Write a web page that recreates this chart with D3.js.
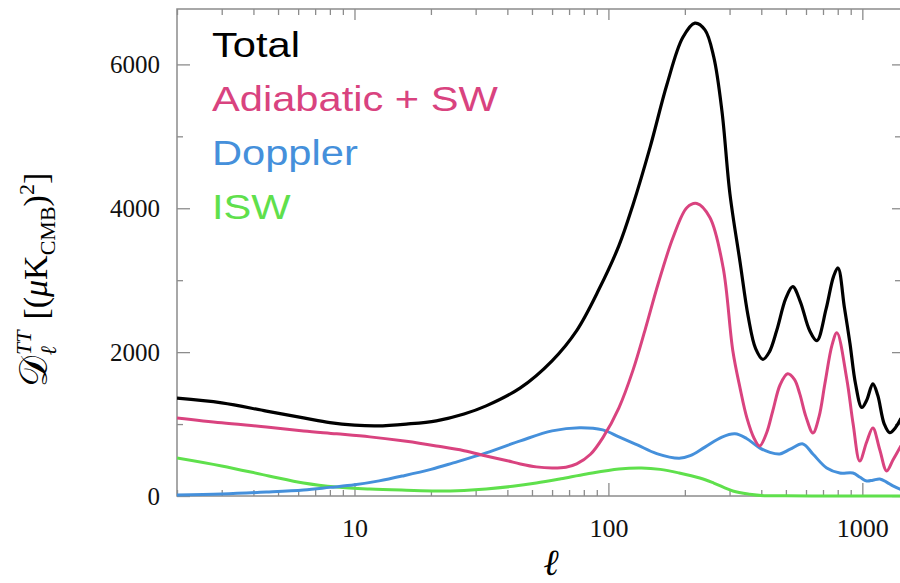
<!DOCTYPE html>
<html>
<head>
<meta charset="utf-8">
<script src="https://d3js.org/d3.v7.min.js"></script>
<style>
  body { margin: 0; background: #fff; }
  .frame { fill: none; stroke: #8c8c8c; stroke-width: 1.5; }
  .tick line { stroke: #8c8c8c; stroke-width: 1.3; }
  .axis path.domain { display: none; }
  .axis text { font-family: "Liberation Serif", "DejaVu Serif", serif; fill: #111; }
  .legend text { font-family: "Liberation Sans", Arial, sans-serif; }
</style>
</head>
<body>
<div id="chart"></div>
<script>

// multipole values (l) and power D_l for each component
var totalL   = [2, 3, 4.5, 6.3, 8, 10, 12.3, 16, 21, 27, 33, 45, 60, 75, 92, 110, 125, 146, 170, 196, 219, 240, 260, 280, 301, 330, 355, 380, 406, 430, 460, 500, 532, 570, 620, 662, 720, 770, 802, 850, 894, 940, 995, 1040, 1100, 1150, 1220, 1282, 1350, 1420];
var totalD   = [1360, 1295, 1180, 1086, 1020, 985, 975, 1000, 1045, 1140, 1253, 1504, 1880, 2300, 2880, 3480, 4050, 4850, 5720, 6370, 6574, 6480, 6100, 5350, 4200, 3250, 2500, 2050, 1900, 2000, 2300, 2750, 2911, 2700, 2300, 2160, 2600, 3050, 3170, 2620, 2120, 1560, 1230, 1330, 1560, 1400, 1000, 880, 950, 1080];

var adiaL    = [2, 3, 4.5, 6.3, 8.5, 11.5, 16, 21, 27, 33, 40, 45, 52, 60, 68, 75, 85, 95, 110, 125, 140, 157, 180, 204, 223, 251, 283, 309, 330, 351, 375, 394, 420, 444, 475, 508, 540, 567, 600, 639, 675, 712, 760, 794, 869, 920, 977, 1040, 1100, 1170, 1247, 1320, 1420];
var adiaD    = [1086, 1017, 960, 905, 865, 822, 760, 696, 630, 557, 490, 446, 405, 390, 400, 446, 580, 808, 1226, 1750, 2330, 2950, 3600, 4011, 4067, 3872, 3176, 2019, 1500, 1086, 800, 696, 880, 1184, 1550, 1699, 1620, 1420, 1100, 877, 1100, 1560, 2100, 2270, 1620, 1000, 487, 750, 947, 650, 348, 500, 700];

var dopplerL = [2, 3, 4.5, 6.3, 8, 10, 12.5, 15.5, 20, 24.5, 33, 45, 60, 77, 95, 110, 130, 155, 190, 210, 240, 280, 315, 350, 394, 430, 473, 520, 583, 640, 724, 815, 918, 980, 1040, 1100, 1172, 1250, 1320, 1420];
var dopplerD = [14, 28, 55, 84, 120, 155, 210, 279, 370, 460, 599, 766, 905, 950, 919, 822, 710, 590, 525, 560, 680, 820, 865, 800, 669, 610, 585, 650, 724, 580, 390, 320, 320, 260, 209, 220, 237, 190, 140, 90];

var iswL     = [2, 3, 4.6, 6.3, 8.5, 11.5, 16, 21, 27, 33, 42, 52, 65, 82, 110, 135, 160, 190, 229, 260, 309, 360, 410, 500, 700, 1000, 1420];
var iswD     = [529, 418, 279, 181, 125, 97, 80, 70, 78, 97, 135, 181, 240, 306, 376, 390, 370, 320, 250, 180, 70, 25, 5, 2, 0, 0, 0];

var legendNames  = ["Total", "Adiabatic + SW", "Doppler", "ISW"];
var legendColors = ["#000000", "#d9437f", "#4590db", "#5fe04c"];

var xMajor = [10, 100, 1000];
var yMajor = [0, 2000, 4000, 6000];
var yMinor = [1000, 3000, 5000];

var width = 900, height = 583;

var svg = d3.select("#chart").append("svg")
    .attr("width", width)
    .attr("height", height);

var x = d3.scaleLog()
    .domain([2, 1420])
    .range([177, 901]);

var y = d3.scaleLinear()
    .domain([0, 6770])
    .range([496, 9]);

// minor log ticks 2..9 in each decade that falls inside the domain
var xMinor = [];
[1, 10, 100, 1000].forEach(function(dec) {
    for (var k = 2; k <= 9; k++) {
        var v = k * dec;
        if (v >= 2 && v <= 1420) xMinor.push(v);
    }
});

//bottom axis, ticks pointing inward
svg.append("g").attr("class", "axis")
    .attr("transform", "translate(0," + y(0) + ")")
    .call(d3.axisBottom(x).tickValues(xMinor).tickSize(-6).tickFormat(""));
svg.append("g").attr("class", "axis")
    .attr("transform", "translate(0," + y(0) + ")")
    .call(d3.axisBottom(x).tickValues(xMajor).tickSize(-13).tickPadding(23).tickFormat(d3.format("d")))
    .selectAll("text").style("font-size", "26px");

//top axis
svg.append("g").attr("class", "axis")
    .attr("transform", "translate(0," + y.range()[1] + ")")
    .call(d3.axisTop(x).tickValues(xMinor).tickSize(-6).tickFormat(""));
svg.append("g").attr("class", "axis")
    .attr("transform", "translate(0," + y.range()[1] + ")")
    .call(d3.axisTop(x).tickValues(xMajor).tickSize(-11).tickFormat(""));

//left axis
svg.append("g").attr("class", "axis")
    .attr("transform", "translate(" + x.range()[0] + ",0)")
    .call(d3.axisLeft(y).tickValues(yMinor).tickSize(-6).tickFormat(""));
svg.append("g").attr("class", "axis")
    .attr("transform", "translate(" + x.range()[0] + ",0)")
    .call(d3.axisLeft(y).tickValues(yMajor).tickSize(-13).tickPadding(17).tickFormat(d3.format("d")))
    .selectAll("text").style("font-size", "25px");

//right axis (frame edge sits just off the picture)
svg.append("g").attr("class", "axis")
    .attr("transform", "translate(" + x.range()[1] + ",0)")
    .call(d3.axisRight(y).tickValues(yMinor).tickSize(-6).tickFormat(""));
svg.append("g").attr("class", "axis")
    .attr("transform", "translate(" + x.range()[1] + ",0)")
    .call(d3.axisRight(y).tickValues(yMajor).tickSize(-9).tickFormat(""));

svg.append("rect")
    .attr("class", "frame")
    .attr("x", x.range()[0])
    .attr("y", y.range()[1])
    .attr("width", x.range()[1] - x.range()[0])
    .attr("height", y.range()[0] - y.range()[1]);

// curves
var line = d3.line()
    .x(function(d) { return x(d[0]); })
    .y(function(d) { return y(d[1]); })
    .curve(d3.curveCatmullRom.alpha(0.5));

function zip(a, b) {
    return a.map(function(v, i) { return [v, b[i]]; });
}

var series = [
    {data: zip(iswL, iswD), color: legendColors[3], w: 3},
    {data: zip(dopplerL, dopplerD), color: legendColors[2], w: 3},
    {data: zip(adiaL, adiaD), color: legendColors[1], w: 3},
    {data: zip(totalL, totalD), color: legendColors[0], w: 3.2}
];

svg.append("clipPath").attr("id", "plotclip")
    .append("rect")
    .attr("x", x.range()[0])
    .attr("y", y.range()[1])
    .attr("width", x.range()[1] - x.range()[0])
    .attr("height", y.range()[0] - y.range()[1] + 2);

svg.append("g").attr("clip-path", "url(#plotclip)")
    .selectAll("path.curve")
    .data(series)
    .enter()
    .append("path")
    .attr("class", "curve")
    .attr("d", function(d) { return line(d.data); })
    .attr("fill", "none")
    .attr("stroke", function(d) { return d.color; })
    .attr("stroke-width", function(d) { return d.w; })
    .attr("stroke-linejoin", "round");

// legend (the source lettering is a bit wider than Arial, so stretch it)
var legend = svg.append("g").attr("class", "legend");
legend.selectAll("text")
    .data(legendNames)
    .enter()
    .append("text")
    .attr("transform", function(d, i) { return "translate(212," + (57 + i * 54) + ") scale(1.19,1)"; })
    .attr("fill", function(d, i) { return legendColors[i]; })
    .style("font-size", "35px")
    .text(function(d) { return d; });

// axis titles
svg.append("text")
    .attr("x", 551)
    .attr("y", 575)
    .attr("text-anchor", "middle")
    .style("font-family", "Liberation Serif, DejaVu Serif, serif")
    .style("font-style", "italic")
    .style("font-size", "37px")
    .text("ℓ");

var ytitle = svg.append("text")
    .attr("transform", "translate(47,280) rotate(-90)")
    .attr("text-anchor", "middle")
    .style("font-family", "Liberation Serif, DejaVu Serif, serif")
    .style("font-size", "34px");
ytitle.append("tspan").style("font-size", "39px").text("𝒟");
ytitle.append("tspan").attr("dy", 9).attr("dx", 1).style("font-size", "22px").style("font-style", "italic").text("ℓ");
ytitle.append("tspan").attr("dy", -25).attr("dx", -9).style("font-size", "22px").style("font-style", "italic").text("TT");
ytitle.append("tspan").attr("dy", 16).attr("dx", 11).text("[(");
ytitle.append("tspan").style("font-style", "italic").text("μ");
ytitle.append("tspan").text("K");
ytitle.append("tspan").attr("dy", 8).style("font-size", "22px").text("CMB");
ytitle.append("tspan").attr("dy", -8).text(")");
ytitle.append("tspan").attr("dy", -13).style("font-size", "22px").text("2");
ytitle.append("tspan").attr("dy", 13).text("]");

</script>
</body>
</html>
